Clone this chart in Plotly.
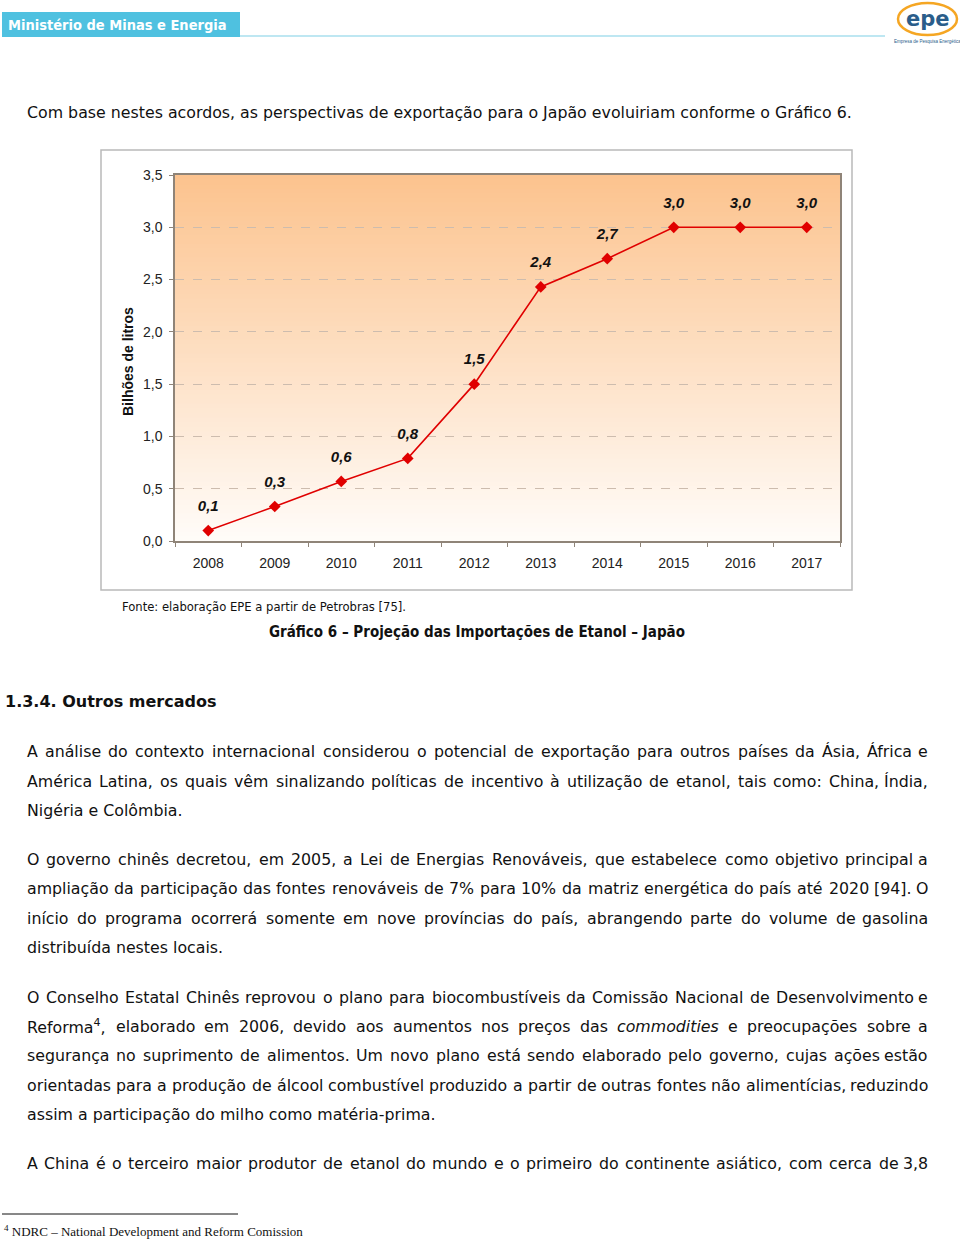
import re
import plotly.graph_objects as go

# ---------------- data ----------------
years = ["2008", "2009", "2010", "2011", "2012", "2013", "2014", "2015", "2016", "2017"]
volumes = [0.10, 0.33, 0.57, 0.79, 1.50, 2.43, 2.70, 3.00, 3.00, 3.00]
y_ticks = [0.0, 0.5, 1.0, 1.5, 2.0, 2.5, 3.0, 3.5]
y_tick_labels = ["0,0", "0,5", "1,0", "1,5", "2,0", "2,5", "3,0", "3,5"]

W, H = 960, 1239
BODY_FONT = "DejaVu Sans, Verdana, sans-serif"
COND_FONT = "DejaVu Sans Condensed, DejaVu Sans, sans-serif"
BODY_SIZE = 15.8
CHART_FONT = "Liberation Sans, Arial, sans-serif"


def px(x):
    return x / W


def py(y):
    return 1 - y / H


fig = go.Figure()

fig.add_trace(go.Scatter(
    x=years, y=volumes, mode="lines+markers",
    line=dict(color="#E00000", width=1.6),
    marker=dict(symbol="diamond", size=9, color="#E00000"),
    hoverinfo="skip", showlegend=False,
))
# value labels (invisible larger markers push the text upward)
fig.add_trace(go.Scatter(
    x=years, y=volumes, mode="markers+text",
    marker=dict(size=24, color="rgba(0,0,0,0)"),
    text=[("%.1f" % v).replace(".", ",") for v in volumes],
    texttemplate="<b><i>%{text}</i></b>",
    textposition="top center",
    textfont=dict(family=CHART_FONT, size=15, color="#111"),
    hoverinfo="skip", showlegend=False, cliponaxis=False,
))

# plot-area vertical gradient background
N = 80
top = (252, 195, 142)
bot = (255, 252, 249)
for i in range(N):
    f = (i + 0.5) / N  # 0 bottom -> 1 top
    c = tuple(round(bot[k] + (top[k] - bot[k]) * f) for k in range(3))
    fig.add_shape(type="rect", xref="x domain", yref="y domain",
                  x0=0, x1=1, y0=i / N, y1=(i + 1) / N + 0.002,
                  fillcolor="rgb(%d,%d,%d)" % c, line=dict(width=0), layer="below")

plot_l, plot_r, plot_t, plot_b = 175, 840, 175, 541

fig.update_xaxes(
    domain=[px(plot_l), px(plot_r)], type="category", range=[-0.5, 9.5],
    showline=True, linecolor="#8f8478", linewidth=1.5, mirror=True,
    ticks="outside", tickson="boundaries", ticklen=4, tickcolor="#8f8478",
    showgrid=False, fixedrange=True, automargin=False,
    tickfont=dict(family=CHART_FONT, size=14, color="#222"),
    ticklabelstandoff=8,
)
fig.update_yaxes(
    domain=[py(plot_b), py(plot_t)], range=[0, 3.5],
    tickvals=y_ticks, ticktext=y_tick_labels,
    showline=True, linecolor="#8f8478", linewidth=1.5, mirror=True,
    ticks="outside", ticklen=4, tickcolor="#8f8478",
    showgrid=True, gridcolor="#cdbcae", griddash="dash", gridwidth=1,
    zeroline=False, fixedrange=True, automargin=False,
    tickfont=dict(family=CHART_FONT, size=14, color="#222"),
    ticklabelstandoff=4,
)

# chart outer frame
fig.add_shape(type="rect", xref="paper", yref="paper",
              x0=px(101), x1=px(852), y0=py(590), y1=py(150),
              line=dict(color="#b9b9b9", width=1.5), fillcolor="rgba(0,0,0,0)")

# y-axis title
fig.add_annotation(x=px(128), y=py(362), xref="paper", yref="paper", showarrow=False,
                   xanchor="center", yanchor="middle",
                   text="<b>Bilhões de litros</b>", textangle=-90,
                   font=dict(family=CHART_FONT, size=14, color="#111"))

# ---------------- page decoration ----------------
fig.add_shape(type="rect", xref="paper", yref="paper",
              x0=px(2), x1=px(240), y0=py(37), y1=py(12),
              fillcolor="#4fc1e0", line=dict(width=0))
fig.add_shape(type="line", xref="paper", yref="paper",
              x0=px(240), x1=px(885), y0=py(36), y1=py(36),
              line=dict(color="#7fd0e6", width=1.2))
fig.add_annotation(x=px(6), y=py(25), xref="paper", yref="paper", showarrow=False,
                   xanchor="left", yanchor="middle", text="<b>Ministério de Minas e Energia</b>",
                   font=dict(family=COND_FONT, size=14.5, color="white"))
# logo
fig.add_shape(type="circle", xref="paper", yref="paper",
              x0=px(898), x1=px(957), y0=py(35), y1=py(3),
              line=dict(color="#f5a623", width=2.5), fillcolor="rgba(0,0,0,0)")
fig.add_annotation(x=px(928), y=py(19), xref="paper", yref="paper", showarrow=False,
                   xanchor="center", yanchor="middle", text="<b>epe</b>",
                   font=dict(family="DejaVu Sans, sans-serif", size=21, color="#2a5d8a"))
fig.add_annotation(x=px(927), y=py(41), xref="paper", yref="paper", showarrow=False,
                   xanchor="center", yanchor="middle", text="Empresa de Pesquisa Energética",
                   font=dict(family=CHART_FONT, size=4.5, color="#2a5d8a"))


def txt(x, y, s, size=BODY_SIZE, anchor="left", color="#111", font=BODY_FONT):
    fig.add_annotation(x=px(x), y=py(y), xref="paper", yref="paper", showarrow=False,
                       xanchor=anchor, yanchor="middle", text=s, borderpad=0,
                       font=dict(family=font, size=size, color=color))


# approximate DejaVu Sans advance widths (units per 2048 em) for justification
ADV = {" ": 651, ",": 651, ".": 651, ":": 690, "-": 739, "[": 799, "]": 799, "%": 1946,
       "A": 1401, "B": 1405, "C": 1430, "D": 1577, "E": 1294, "F": 1178, "G": 1587,
       "H": 1540, "I": 604, "J": 604, "K": 1343, "L": 1141, "M": 1767, "N": 1532,
       "O": 1612, "P": 1235, "Q": 1612, "R": 1423, "S": 1300, "T": 1251, "U": 1499,
       "V": 1401, "W": 2025, "X": 1403, "Y": 1251, "Z": 1403,
       "a": 1255, "b": 1300, "c": 1126, "d": 1300, "e": 1260, "f": 721, "g": 1300,
       "h": 1298, "i": 569, "j": 569, "k": 1186, "l": 569, "m": 1995, "n": 1298,
       "o": 1253, "p": 1300, "q": 1300, "r": 842, "s": 1067, "t": 803, "u": 1298,
       "v": 1212, "w": 1675, "x": 1212, "y": 1212, "z": 1075}
BASE = str.maketrans("áàâãéêíóôõúçÁÉÍÓÚÂÊÔÃÕÇ", "aaaaeeioooucAEIOUAEOAOC")


def width(word, size):
    sup = re.findall(r"<sup>(.*?)</sup>", word)
    plain = re.sub(r"<sup>.*?</sup>", "", word)
    plain = re.sub(r"<[^>]+>", "", plain).translate(BASE)
    w = sum(ADV.get(ch, 1303) for ch in plain)
    w += sum(ADV.get(ch, 1303) for s in sup for ch in s) * 0.7
    return w * size / 2048


TEXT_L, TEXT_R = 26, 929


def justified(y, s):
    words = s.split(" ")
    ws = [width(w, BODY_SIZE) for w in words]
    gap = (TEXT_R - TEXT_L - sum(ws)) / (len(words) - 1)
    x = TEXT_L
    for i, (w, wd) in enumerate(zip(words, ws)):
        if i == len(words) - 1:
            txt(TEXT_R, y, w, anchor="right")
        else:
            txt(x, y, w)
        x += wd + gap


txt(26, 113, "Com base nestes acordos, as perspectivas de exportação para o Japão evoluiriam conforme o Gráfico 6.")
txt(121, 606, "Fonte: elaboração EPE a partir de Petrobras [75].", size=12.9, font=COND_FONT)
txt(477, 632, "<b>Gráfico 6 – Projeção das Importações de Etanol – Japão</b>", size=15,
    anchor="center", font=COND_FONT)
txt(4, 701, "<b>1.3.4. Outros mercados</b>", size=16)

lines = [
    (751, "A análise do contexto internacional considerou o potencial de exportação para outros países da Ásia, África e", True),
    (781, "América Latina, os quais vêm sinalizando políticas de incentivo à utilização de etanol, tais como: China, Índia,", True),
    (810, "Nigéria e Colômbia.", False),
    (859, "O governo chinês decretou, em 2005, a Lei de Energias Renováveis, que estabelece como objetivo principal a", True),
    (888, "ampliação da participação das fontes renováveis de 7% para 10% da matriz energética do país até 2020 [94]. O", True),
    (918, "início do programa ocorrerá somente em nove províncias do país, abrangendo parte do volume de gasolina", True),
    (947, "distribuída nestes locais.", False),
    (997, "O Conselho Estatal Chinês reprovou o plano para biocombustíveis da Comissão Nacional de Desenvolvimento e", True),
    (1026, "Reforma<sup>4</sup>, elaborado em 2006, devido aos aumentos nos preços das <i>commodities</i> e preocupações sobre a", True),
    (1055, "segurança no suprimento de alimentos. Um novo plano está sendo elaborado pelo governo, cujas ações estão", True),
    (1085, "orientadas para a produção de álcool combustível produzido a partir de outras fontes não alimentícias, reduzindo", True),
    (1114, "assim a participação do milho como matéria-prima.", False),
    (1163, "A China é o terceiro maior produtor de etanol do mundo e o primeiro do continente asiático, com cerca de 3,8", True),
]
for y, s, just in lines:
    if just:
        justified(y, s)
    else:
        txt(TEXT_L, y, s)

# footnote
fig.add_shape(type="line", xref="paper", yref="paper",
              x0=px(2), x1=px(238), y0=py(1214), y1=py(1214),
              line=dict(color="#111", width=1))
txt(3, 1231, "<sup>4</sup> NDRC – National Development and Reform Comission", size=13,
    font="Liberation Serif, Times New Roman, serif")

fig.update_layout(
    width=W, height=H, margin=dict(l=0, r=0, t=0, b=0, pad=0, autoexpand=False),
    paper_bgcolor="white", plot_bgcolor="rgba(0,0,0,0)",
    showlegend=False,
)

FIX_PAGE = (
    "document.documentElement.style.cssText='margin:0;padding:0;overflow:hidden;';"
    "document.body.style.cssText='margin:0;padding:0;overflow:hidden;';"
)
fig.write_html("out.html", config={"displayModeBar": False}, post_script=FIX_PAGE)
